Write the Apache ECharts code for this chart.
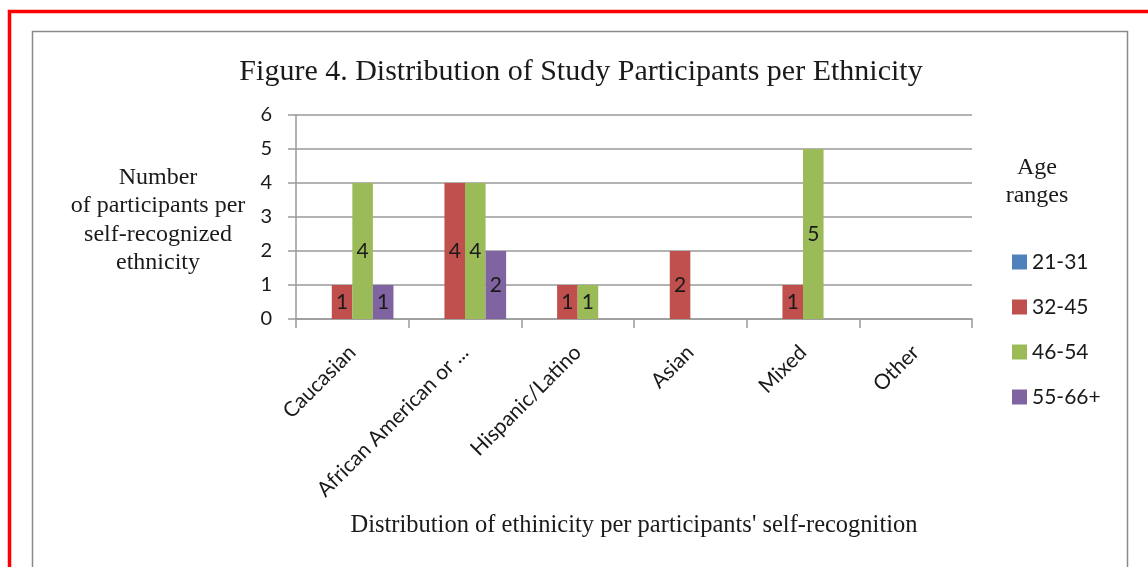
<!DOCTYPE html>
<html>
<head>
<meta charset="utf-8">
<title>Figure 4. Distribution of Study Participants per Ethnicity</title>
<script src="https://cdn.jsdelivr.net/npm/echarts@6/dist/echarts.min.js"></script>
<style>
  html, body { margin: 0; padding: 0; background: #fff; }
  #chart { width: 1148px; height: 567px; }
</style>
</head>
<body>
<div id="chart"></div>
<script>
// Ethnic groups along the x axis
const categories = ['Caucasian', 'African American or ...', 'Hispanic/Latino', 'Asian', 'Mixed', 'Other'];

// Participant counts per age range
const age21to31 = [0, 0, 0, 0, 0, 0];
const age32to45 = [1, 4, 1, 2, 1, 0];
const age46to54 = [4, 4, 1, 0, 5, 0];
const age55plus = [1, 2, 0, 0, 0, 0];

const seriesNames = ['21-31', '32-45', '46-54', '55-66+'];
const seriesColors = ['#4F81BD', '#C0504D', '#9BBB59', '#8064A2'];
const yTicks = [0, 1, 2, 3, 4, 5, 6];

const serif = '"Liberation Serif", "Times New Roman", serif';
const sans = 'Lato, "Open Sans", sans-serif';

const chart = echarts.init(document.getElementById('chart'), null, { renderer: 'canvas' });

function barSeries(name, data, color) {
  return {
    name: name,
    type: 'bar',
    data: data,
    barGap: '0%',
    barCategoryGap: '27%',
    itemStyle: { color: color },
    label: {
      show: true,
      position: 'inside',
      color: '#1a1a1a',
      fontFamily: sans,
      fontSize: 21,
      formatter: p => (p.value ? String(p.value) : '')
    },
    emphasis: { disabled: true }
  };
}

chart.setOption({
  animation: false,
  backgroundColor: '#ffffff',
  title: {
    text: 'Figure 4. Distribution of Study Participants per Ethnicity',
    left: 581,
    top: 57,
    padding: 0,
    textAlign: 'center',
    textStyle: { fontFamily: serif, fontSize: 30, fontWeight: 'normal', color: '#1a1a1a' }
  },
  grid: { left: 296, right: 176, top: 115, bottom: 248 },
  legend: {
    orient: 'vertical',
    left: 1012,
    top: 251,
    padding: 0,
    itemWidth: 15,
    itemHeight: 15,
    itemGap: 23,
    icon: 'rect',
    selectedMode: false,
    data: seriesNames,
    textStyle: { fontFamily: sans, fontSize: 21, color: '#1a1a1a', lineHeight: 22, padding: [0, 0, 0, 0] }
  },
  xAxis: {
    type: 'category',
    data: categories,
    name: "Distribution of ethinicity per participants' self-recognition",
    nameLocation: 'middle',
    nameGap: 194,
    nameTextStyle: { fontFamily: serif, fontSize: 24.5, color: '#1a1a1a' },
    axisLine: { show: true, lineStyle: { color: '#9a9a9a', width: 1.5 } },
    axisTick: { show: true, length: 9, lineStyle: { color: '#9a9a9a', width: 1.5 } },
    axisLabel: {
      rotate: 45,
      margin: 30,
      interval: 0,
      fontFamily: sans,
      fontSize: 21,
      color: '#1a1a1a'
    }
  },
  yAxis: {
    type: 'value',
    min: yTicks[0],
    max: yTicks[yTicks.length - 1],
    interval: 1,
    axisLine: { show: true, lineStyle: { color: '#9a9a9a', width: 1.5 } },
    axisTick: { show: true, length: 8, lineStyle: { color: '#9a9a9a', width: 1.5 } },
    axisLabel: { margin: 24, fontFamily: sans, fontSize: 20, color: '#1a1a1a' },
    splitLine: { show: true, lineStyle: { color: '#9a9a9a', width: 1.5 } }
  },
  graphic: [
    {
      type: 'rect',
      silent: true,
      shape: { x: 9.5, y: 11.5, width: 1200, height: 700 },
      style: { fill: 'none', stroke: '#ff0000', lineWidth: 3.5 }
    },
    {
      type: 'rect',
      silent: true,
      shape: { x: 32.5, y: 31.5, width: 1095, height: 600 },
      style: { fill: 'none', stroke: '#8a8a8a', lineWidth: 1.5 }
    },
    {
      type: 'text',
      silent: true,
      x: 158,
      y: 163,
      style: {
        text: 'Number\nof participants per\nself-recognized\nethnicity',
        align: 'center',
        verticalAlign: 'top',
        font: '24px ' + serif,
        lineHeight: 28.5,
        fill: '#1a1a1a'
      }
    },
    {
      type: 'text',
      silent: true,
      x: 1037,
      y: 154,
      style: {
        text: 'Age\nranges',
        align: 'center',
        verticalAlign: 'top',
        font: '24px ' + serif,
        lineHeight: 28,
        fill: '#1a1a1a'
      }
    }
  ],
  series: [
    barSeries(seriesNames[0], age21to31, seriesColors[0]),
    barSeries(seriesNames[1], age32to45, seriesColors[1]),
    barSeries(seriesNames[2], age46to54, seriesColors[2]),
    barSeries(seriesNames[3], age55plus, seriesColors[3])
  ]
});
</script>
</body>
</html>
